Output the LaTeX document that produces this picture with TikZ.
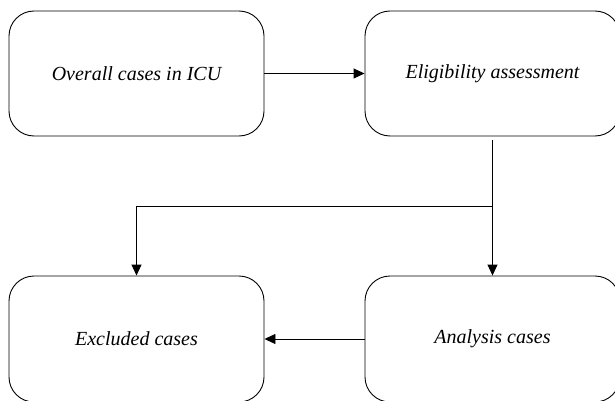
\documentclass[tikz,border=0pt]{standalone}
\usepackage{fontspec}
\setmainfont{Liberation Serif}
\usetikzlibrary{arrows.meta}
\begin{document}
\begin{tikzpicture}[x=1pt, y=1pt,
  casebox/.style={draw, rounded corners=25pt, minimum width=255pt, minimum height=125pt, line width=0.9pt, font=\fontsize{20}{23}\selectfont\itshape},
  flow/.style={-{Triangle[length=11pt,width=10pt]}, line width=0.9pt}]
\useasboundingbox (0,0) rectangle (615,400);
\clip (0,0) rectangle (615,400);

	%caixas
	\node[casebox] (overall) at (136.5, 326.5) {Overall cases in ICU};
	\node[casebox] (elig) at (492.5, 326.5) {Eligibility assessment};
	\node[casebox, minimum height=126pt] (excluded) at (136.5, 61) {Excluded cases};
	\node[casebox, minimum height=126pt] (analysis) at (492.5, 61) {Analysis cases};

	%setas
	\draw[flow] (overall) -- (elig);
	\coordinate (split) at (492.5, 194);
	\draw[line width=0.9pt, shorten <=4pt] (elig.south) -- (split);
	\draw[flow] (split) -- (analysis.north);
	\draw[flow] (split) -| (excluded.north);
	\draw[flow] (analysis) -- (excluded);
\end{tikzpicture}
\end{document}
